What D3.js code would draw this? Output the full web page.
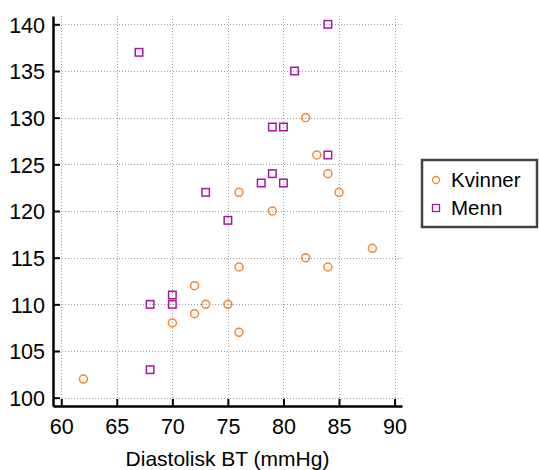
<!DOCTYPE html>
<html>
<head>
<meta charset="utf-8">
<script src="https://cdn.jsdelivr.net/npm/d3@7/dist/d3.min.js"></script>
<style>
  body { margin: 0; background: #fff; }
  svg { display: block; font-family: "Liberation Sans", Arial, sans-serif; }
</style>
</head>
<body>
<svg id="chart" width="539" height="470"></svg>
<script>
// data: diastolic (x) vs systolic (y) blood pressure
let kvinnerX = [62, 70, 72, 72, 73, 75, 76, 76, 82, 84, 88, 82, 83, 84, 85, 79, 76];
let kvinnerY = [102, 108, 112, 109, 110, 110, 114, 107, 115, 114, 116, 130, 126, 124, 122, 120, 122];
let mennX = [67, 73, 75, 78, 84, 81, 79, 80, 84, 79, 80, 68, 70, 70, 68];
let mennY = [137, 122, 119, 123, 140, 135, 129, 129, 126, 124, 123, 110, 111, 110, 103];

let xTicks = [60, 65, 70, 75, 80, 85, 90];
let yTicks = [100, 105, 110, 115, 120, 125, 130, 135, 140];
let seriesNames = ['Kvinner', 'Menn'];
let xLabel = 'Diastolisk BT (mmHg)';

let ORANGE = '#f7862a';
let PURPLE = '#a3189f';

let svg = d3.select('#chart');

// plot area in pixels
let plotLeft = 53, plotRight = 402, plotTop = 16, plotBottom = 406;

let x = d3.scaleLinear().domain([59.26, 90.67]).range([plotLeft, plotRight]);
let y = d3.scaleLinear().domain([99.11, 140.89]).range([plotBottom, plotTop]);

// dotted grid
let grid = svg.append('g').attr('stroke', '#a0a0a0').attr('stroke-width', 1)
    .attr('stroke-dasharray', '1,2');
grid.selectAll('.vx').data(xTicks).enter().append('line')
    .attr('x1', d => Math.round(x(d)) + 0.5).attr('x2', d => Math.round(x(d)) + 0.5)
    .attr('y1', plotTop).attr('y2', plotBottom);
grid.selectAll('.hy').data(yTicks).enter().append('line')
    .attr('x1', plotLeft).attr('x2', plotRight)
    .attr('y1', d => Math.round(y(d)) + 0.5).attr('y2', d => Math.round(y(d)) + 0.5);

// axes, ticks pointing inward
let xAxis = d3.axisBottom(x).tickValues(xTicks).tickSizeInner(-7).tickSizeOuter(0).tickPadding(13);
let yAxis = d3.axisLeft(y).tickValues(yTicks).tickSizeInner(-7).tickSizeOuter(0).tickPadding(8);

let gx = svg.append('g').attr('transform', `translate(0,${plotBottom})`).call(xAxis);
let gy = svg.append('g').attr('transform', `translate(${plotLeft},0)`).call(yAxis);

[gx, gy].forEach(g => {
    g.select('.domain').attr('stroke', '#000').attr('stroke-width', 2.5);
    g.selectAll('.tick line').attr('stroke', '#000').attr('stroke-width', 2);
    g.selectAll('.tick text').attr('fill', '#000').style('font-size', '21.5px')
        .style('font-family', '"Liberation Sans", Arial, sans-serif');
});
gy.selectAll('.tick text').attr('dy', '0.36em');

svg.append('text')
    .attr('x', (plotLeft + plotRight) / 2).attr('y', 466)
    .attr('text-anchor', 'middle')
    .style('font-size', '21px')
    .text(xLabel);

// points
let kvinner = kvinnerX.map((d, i) => ({x: d, y: kvinnerY[i]}));
let menn = mennX.map((d, i) => ({x: d, y: mennY[i]}));

svg.append('g').selectAll('circle').data(kvinner).enter().append('circle')
    .attr('cx', d => x(d.x)).attr('cy', d => y(d.y)).attr('r', 4)
    .attr('fill', 'none').attr('stroke', ORANGE).attr('stroke-width', 1.5);

let sq = 7.5;
svg.append('g').selectAll('rect').data(menn).enter().append('rect')
    .attr('x', d => x(d.x) - sq / 2).attr('y', d => y(d.y) - sq / 2)
    .attr('width', sq).attr('height', sq)
    .attr('fill', 'none').attr('stroke', PURPLE).attr('stroke-width', 1.5);

// legend
let lg = svg.append('g');
lg.append('rect').attr('x', 422).attr('y', 160).attr('width', 115).attr('height', 67)
    .attr('fill', '#fff').attr('stroke', '#444').attr('stroke-width', 2.5);
lg.append('circle').attr('cx', 436).attr('cy', 180).attr('r', 3.5)
    .attr('fill', 'none').attr('stroke', ORANGE).attr('stroke-width', 1.3);
lg.append('rect').attr('x', 432.5).attr('y', 204.5).attr('width', 7).attr('height', 7)
    .attr('fill', 'none').attr('stroke', PURPLE).attr('stroke-width', 1.3);
lg.selectAll('text').data(seriesNames).enter().append('text')
    .attr('x', 451).attr('y', (d, i) => 187 + i * 28)
    .style('font-size', '20.5px')
    .text(d => d);
</script>
</body>
</html>
